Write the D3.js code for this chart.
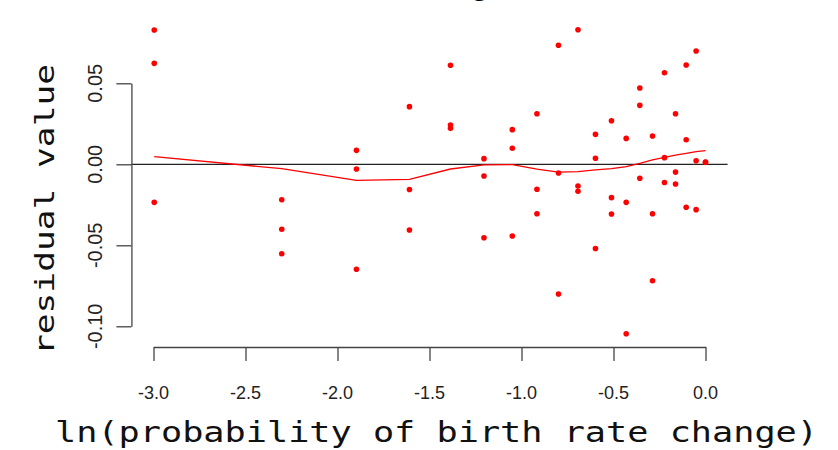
<!DOCTYPE html>
<html>
<head>
<meta charset="utf-8">
<script src="https://cdn.jsdelivr.net/npm/d3@7"></script>
<style>
  html, body { margin: 0; padding: 0; background: #fff; }
  svg { display: block; }
</style>
</head>
<body>
<svg id="chart" width="838" height="450"></svg>
<script>
// ---- data ----
const titleText = "Checking Residuals";
const xLabel = "ln(probability of birth rate change)";
const yLabel = "residual value";

// predictor levels (ln probability) for each residual point
const pointX = [
  -2.996, -2.996, -2.996,
  -2.303, -2.303, -2.303,
  -1.897, -1.897, -1.897,
  -1.609, -1.609, -1.609,
  -1.386, -1.386, -1.386,
  -1.204, -1.204, -1.204,
  -1.050, -1.050, -1.050,
  -0.916, -0.916, -0.916,
  -0.799, -0.799, -0.799,
  -0.693, -0.693, -0.693,
  -0.598, -0.598, -0.598,
  -0.511, -0.511, -0.511,
  -0.431, -0.431, -0.431,
  -0.357, -0.357, -0.357,
  -0.288, -0.288, -0.288,
  -0.223, -0.223, -0.223,
  -0.163, -0.163, -0.163,
  -0.105, -0.105, -0.105,
  -0.051, -0.051, -0.051,
  0.000, 0.000
];
// residual values
const pointY = [
  0.0829, 0.0623, -0.0235,
  -0.0219, -0.0401, -0.0552,
  0.0086, -0.0029, -0.0648,
  0.0356, -0.0156, -0.0406,
  0.0611, 0.0243, 0.0222,
  0.0035, -0.0072, -0.0453,
  0.0214, 0.0099, -0.0443,
  0.0312, -0.0154, -0.0305,
  0.0735, -0.0054, -0.0801,
  0.0831, -0.0134, -0.0166,
  0.0185, 0.0037, -0.0520,
  0.0269, -0.0206, -0.0307,
  0.0160, -0.0235, -0.1046,
  0.0471, 0.0364, -0.0086,
  0.0175, -0.0305, -0.0719,
  0.0565, 0.0041, -0.0112,
  0.0312, -0.0048, -0.0122,
  0.0613, 0.0152, -0.0265,
  0.0699, 0.0022, -0.0280,
  0.0014, 0.0012
];

// smoothed (lowess) curve
const fitX = [-2.996, -2.303, -1.897, -1.609, -1.386, -1.204, -1.050, -0.916, -0.799, -0.693,
              -0.598, -0.511, -0.431, -0.357, -0.288, -0.223, -0.163, -0.105, -0.051, 0.000];
const fitY = [0.0047, -0.0027, -0.0099, -0.0093, -0.0029, -0.0004, -0.0002, -0.0030, -0.0048, -0.0045,
              -0.0035, -0.0027, -0.0015, 0.0006, 0.0027, 0.0043, 0.0056, 0.0068, 0.0078, 0.0085];

const xTicks = [-3.0, -2.5, -2.0, -1.5, -1.0, -0.5, 0.0];
const yTicks = [0.05, 0.00, -0.05, -0.10];
const xTickLabels = ["-3.0", "-2.5", "-2.0", "-1.5", "-1.0", "-0.5", "0.0"];
const yTickLabels = ["0.05", "0.00", "-0.05", "-0.10"];
const plotXRange = [-3.12, 0.12];

// ---- drawing ----
const svg = d3.select("#chart");
const x = d3.scaleLinear().domain([-3, 0]).range([153.5, 705.5]);
const y = d3.scaleLinear().domain([0.05, -0.10]).range([83.3, 326.3]);
const axisColor = "#444";

// zero reference line
svg.append("line")
  .attr("x1", x(plotXRange[0])).attr("x2", x(plotXRange[1]))
  .attr("y1", y(0)).attr("y2", y(0))
  .attr("stroke", "#222").attr("stroke-width", 1.3);

// x axis
const gx = svg.append("g")
  .attr("transform", `translate(0,${347})`)
  .call(d3.axisBottom(x).tickValues(xTicks).tickSize(14).tickSizeOuter(0).tickFormat(""));
gx.selectAll("path, line").attr("stroke", axisColor).attr("stroke-width", 1.3);

gx.selectAll("text.lbl")
  .data(xTicks)
  .join("text")
  .attr("class", "lbl")
  .attr("x", (d) => x(d))
  .attr("y", 52)
  .attr("text-anchor", "middle")
  .attr("font-family", "Liberation Sans, Arial, sans-serif")
  .attr("font-size", 18)
  .attr("fill", "#222")
  .text((d, i) => xTickLabels[i]);

// y axis
const gy = svg.append("g")
  .attr("transform", `translate(${x(plotXRange[0])},0)`)
  .call(d3.axisLeft(y).tickValues(yTicks).tickSize(15).tickSizeOuter(0).tickFormat(""));
gy.selectAll("path, line").attr("stroke", axisColor).attr("stroke-width", 1.3);

svg.append("g").selectAll("text")
  .data(yTicks)
  .join("text")
  .attr("transform", (d) => `translate(${102},${y(d)}) rotate(-90)`)
  .attr("text-anchor", "middle")
  .attr("font-family", "Liberation Sans, Arial, sans-serif")
  .attr("font-size", 20)
  .attr("fill", "#222")
  .text((d, i) => yTickLabels[i]);

// smoothed curve
const lineGen = d3.line().x((d) => x(d[0])).y((d) => y(d[1]));
svg.append("path")
  .datum(fitX.map((v, i) => [v, fitY[i]]))
  .attr("d", lineGen)
  .attr("fill", "none")
  .attr("stroke", "#ff0000")
  .attr("stroke-width", 1.3);

// points
svg.append("g").selectAll("circle")
  .data(pointX.map((v, i) => [v, pointY[i]]))
  .join("circle")
  .attr("cx", (d) => x(d[0]))
  .attr("cy", (d) => y(d[1]))
  .attr("r", 2.8)
  .attr("fill", "#ff0000");

// axis titles
svg.append("text")
  .attr("x", 436.5)
  .attr("y", 442)
  .attr("text-anchor", "middle")
  .attr("font-family", "DejaVu Sans Mono, monospace")
  .attr("font-size", 29)
  .attr("textLength", 763)
  .attr("lengthAdjust", "spacingAndGlyphs")
  .attr("fill", "#111")
  .text(xLabel);

svg.append("text")
  .attr("transform", `translate(54,209.5) rotate(-90)`)
  .attr("text-anchor", "middle")
  .attr("font-family", "DejaVu Sans Mono, monospace")
  .attr("font-size", 26)
  .attr("textLength", 291)
  .attr("lengthAdjust", "spacingAndGlyphs")
  .attr("fill", "#111")
  .text(yLabel);

// title (lies above the visible area; only the descender of its "g" shows)
const title = svg.append("text")
  .attr("x", 0)
  .attr("y", -5.5)
  .attr("font-family", "Liberation Sans, Arial, sans-serif")
  .attr("font-weight", "bold")
  .attr("font-size", 30)
  .attr("fill", "#000")
  .text(titleText);
try {
  const idx = titleText.indexOf("g");
  const ext = title.node().getExtentOfChar(idx);
  title.attr("x", 480 - (ext.x + ext.width / 2));
} catch (e) {
  title.attr("x", 330);
}
</script>
</body>
</html>
